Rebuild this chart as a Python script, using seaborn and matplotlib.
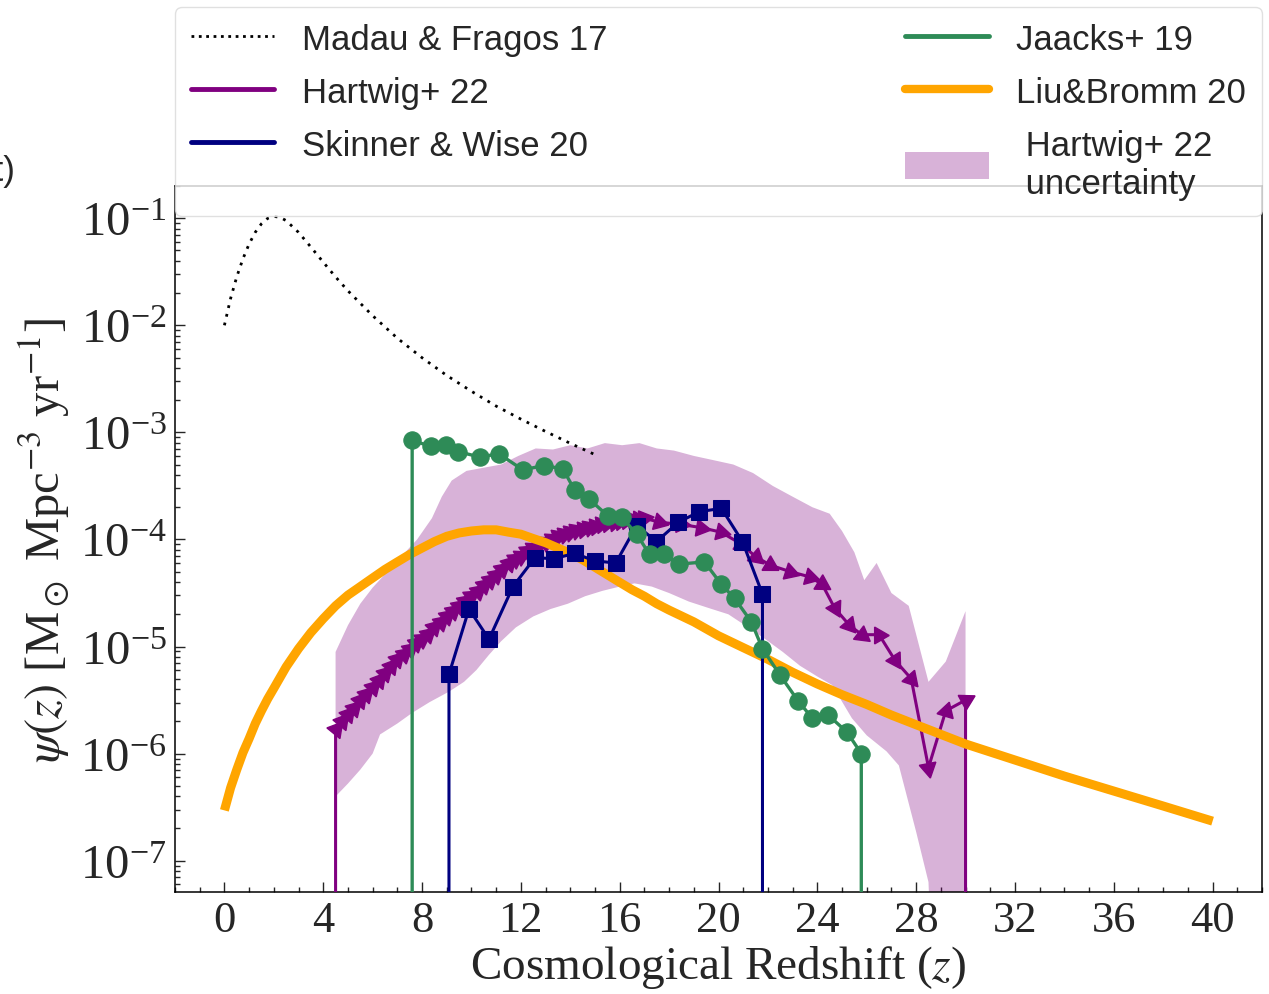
import numpy as np
import matplotlib
matplotlib.use("Agg")
import matplotlib.pyplot as plt
from matplotlib.lines import Line2D
from matplotlib.patches import Patch
from matplotlib.ticker import MultipleLocator, FixedLocator
import seaborn as sns

# ---------------- data ----------------
# Madau & Fragos 2017 cosmic star formation rate density
madau_z = [0, 0.25, 0.5, 0.75, 1, 1.25, 1.5, 1.75, 2, 2.25, 2.5, 3, 3.5, 4, 4.5,
           5, 6, 7, 8, 9, 10, 11, 12, 13, 14, 15]
madau_psi = [1.00e-2, 1.78e-2, 2.84e-2, 4.18e-2, 5.75e-2, 7.40e-2, 8.88e-2, 9.97e-2,
             1.04e-1, 1.02e-1, 9.50e-2, 7.38e-2, 5.38e-2, 3.89e-2, 2.83e-2,
             2.10e-2, 1.23e-2, 7.58e-3, 4.98e-3, 3.40e-3, 2.42e-3, 1.76e-3,
             1.33e-3, 1.02e-3, 7.90e-4, 6.20e-4]

# Hartwig+ 22 Pop III SFRD
hart_z = [4.50, 4.75, 5.00, 5.25, 5.50, 5.75, 6.00, 6.25, 6.50, 6.75, 7.00, 7.25,
          7.50, 7.75, 8.00, 8.25, 8.50, 8.75, 9.00, 9.25, 9.50, 9.75, 10.00, 10.25,
          10.50, 10.75, 11.00, 11.25, 11.50, 11.75, 12.00, 12.25, 12.50, 12.75,
          13.00, 13.25, 13.50, 13.75, 14.00, 14.25, 14.50, 14.75, 15.00, 15.25,
          15.50, 15.75, 16.00, 16.25, 16.50, 16.75, 17.00,
          17.6, 18.5, 19.3, 20.1, 20.9, 21.5, 22.1, 22.9, 23.7, 24.2, 24.7, 25.3,
          25.8, 26.5, 27.15, 27.8, 28.5, 29.2, 30.0]
hart_psi = [1.70e-6, 2.00e-6, 2.34e-6, 2.69e-6, 3.16e-6, 3.63e-6, 4.17e-6, 4.90e-6,
            5.62e-6, 6.61e-6, 7.59e-6, 8.51e-6, 9.55e-6, 1.07e-5, 1.17e-5, 1.32e-5,
            1.51e-5, 1.70e-5, 1.91e-5, 2.14e-5, 2.40e-5, 2.69e-5, 2.95e-5, 3.31e-5,
            3.72e-5, 4.17e-5, 4.68e-5, 5.25e-5, 6.03e-5, 6.61e-5, 7.08e-5, 7.76e-5,
            8.32e-5, 8.91e-5, 9.55e-5, 1.02e-4, 1.07e-4, 1.12e-4, 1.17e-4, 1.23e-4,
            1.26e-4, 1.32e-4, 1.35e-4, 1.38e-4, 1.41e-4, 1.45e-4, 1.48e-4, 1.51e-4,
            1.55e-4, 1.55e-4, 1.58e-4,
            1.45e-4, 1.38e-4, 1.29e-4, 1.17e-4, 9.12e-5, 6.92e-5, 5.75e-5, 5.01e-5,
            4.47e-5, 3.80e-5, 2.29e-5, 1.58e-5, 1.29e-5, 1.29e-5, 7.41e-6, 5.01e-6,
            7.41e-7, 2.51e-6, 3.16e-6]

# Hartwig+ 22 uncertainty band (upper and lower envelopes)
band_up_z = [4.5, 5.0, 5.5, 6.0, 6.6, 7.2, 7.8, 8.4, 8.8, 9.2, 9.8, 10.5, 11.2, 11.9,
             12.6, 13.3, 14.0, 14.7, 15.4, 16.1, 16.8, 17.5, 18.2, 19.0, 19.8, 20.6,
             21.4, 22.2, 23.0, 23.8, 24.5, 25.0, 25.5, 25.9, 26.4, 27.0, 27.7, 28.5,
             29.2, 30.0]
band_up = [8.91e-6, 1.58e-5, 2.51e-5, 3.55e-5, 5.01e-5, 7.08e-5, 1.00e-4, 1.58e-4,
           2.51e-4, 3.55e-4, 4.37e-4, 4.68e-4, 5.01e-4, 6.03e-4, 7.08e-4, 6.92e-4,
           7.59e-4, 7.08e-4, 7.94e-4, 7.59e-4, 7.94e-4, 7.08e-4, 6.76e-4, 6.03e-4,
           5.50e-4, 5.01e-4, 4.17e-4, 3.16e-4, 2.51e-4, 2.00e-4, 1.74e-4, 1.20e-4,
           7.59e-5, 4.17e-5, 6.03e-5, 3.16e-5, 2.40e-5, 4.68e-6, 7.24e-6, 2.14e-5]
band_lo_z = [4.5, 5.0, 5.5, 6.0, 6.3, 7.0, 7.6, 8.3, 9.1, 9.7, 10.2, 10.7, 11.2, 11.8,
             12.5, 13.2, 13.9, 14.6, 15.3, 16.0, 16.6, 17.3, 18.0, 18.8, 19.6, 20.4,
             21.2, 21.9, 22.6, 23.3, 24.0, 24.6, 25.4, 26.0, 26.8, 27.3, 28.0, 28.5,
             28.8, 30.0]
band_lo = [3.98e-7, 5.25e-7, 7.08e-7, 1.00e-6, 1.51e-6, 1.91e-6, 2.40e-6, 3.02e-6,
           3.80e-6, 4.68e-6, 6.03e-6, 8.32e-6, 1.12e-5, 1.51e-5, 1.91e-5, 2.24e-5,
           2.51e-5, 2.95e-5, 3.31e-5, 3.63e-5, 3.89e-5, 3.63e-5, 3.16e-5, 2.63e-5,
           2.29e-5, 2.00e-5, 1.51e-5, 1.17e-5, 8.91e-6, 6.61e-6, 5.25e-6, 4.37e-6,
           2.14e-6, 1.48e-6, 1.05e-6, 7.76e-7, 1.86e-7, 6.31e-8, 1.0e-9, 1.0e-9]

# Skinner & Wise 20
skin_z = [9.09, 9.90, 10.71, 11.68, 12.57, 13.33, 14.18, 14.99, 15.84, 16.69,
          17.49, 18.38, 19.23, 20.12, 20.97, 21.78]
skin_psi = [5.50e-6, 2.24e-5, 1.17e-5, 3.63e-5, 6.76e-5, 6.61e-5, 7.41e-5, 6.31e-5,
            6.03e-5, 1.35e-4, 9.55e-5, 1.45e-4, 1.82e-4, 1.95e-4, 9.55e-5, 3.09e-5]

# Jaacks+ 19
jaa_z = [7.60, 8.36, 8.97, 9.45, 10.34, 11.11, 12.08, 12.93, 13.70, 14.18, 14.75,
         15.52, 16.08, 16.69, 17.21, 17.78, 18.42, 19.43, 20.12, 20.65, 21.33,
         21.78, 22.50, 23.23, 23.80, 24.44, 25.21, 25.78]
jaa_psi = [8.41e-4, 7.41e-4, 7.59e-4, 6.61e-4, 5.89e-4, 6.31e-4, 4.47e-4, 4.90e-4,
           4.57e-4, 2.88e-4, 2.40e-4, 1.66e-4, 1.62e-4, 1.12e-4, 7.24e-5, 7.24e-5,
           5.89e-5, 6.17e-5, 3.80e-5, 2.82e-5, 1.70e-5, 9.55e-6, 5.37e-6, 3.09e-6,
           2.14e-6, 2.29e-6, 1.58e-6, 1.00e-6]

# Liu & Bromm 20
liu_z = [0, 0.25, 0.5, 0.75, 1, 1.25, 1.5, 1.75, 2, 2.5, 3, 3.5, 4, 4.5, 5, 5.5, 6,
         6.5, 7, 7.5, 8, 8.5, 9, 9.5, 10, 10.5, 11, 11.5, 12, 12.5, 13, 13.5, 14,
         14.5, 15, 15.5, 16, 16.5, 17, 17.5, 18, 19, 20, 21, 22, 23, 24, 25, 26, 27,
         28, 30, 32, 34, 36, 38, 40]
liu_psi = [2.95e-7, 4.79e-7, 7.08e-7, 1.02e-6, 1.38e-6, 1.91e-6, 2.51e-6, 3.24e-6,
           4.07e-6, 6.46e-6, 9.55e-6, 1.35e-5, 1.82e-5, 2.40e-5, 3.02e-5, 3.63e-5,
           4.37e-5, 5.25e-5, 6.17e-5, 7.24e-5, 8.32e-5, 9.55e-5, 1.07e-4, 1.15e-4,
           1.20e-4, 1.23e-4, 1.23e-4, 1.17e-4, 1.12e-4, 1.02e-4, 9.33e-5, 8.32e-5,
           7.41e-5, 6.46e-5, 5.50e-5, 4.68e-5, 3.98e-5, 3.39e-5, 2.95e-5, 2.51e-5,
           2.19e-5, 1.70e-5, 1.26e-5, 9.77e-6, 7.59e-6, 5.75e-6, 4.47e-6, 3.55e-6,
           2.88e-6, 2.29e-6, 1.86e-6, 1.23e-6, 8.71e-7, 6.17e-7, 4.47e-7, 3.24e-7,
           2.34e-7]

# value used where a model drops to zero at the edges of its redshift range
ZERO = 1e-12

x_ticks = list(range(0, 41, 4))

labels = ["Madau & Fragos 17", "Hartwig+ 22", "Skinner & Wise 20",
          "Jaacks+ 19", "Liu&Bromm 20", " Hartwig+ 22\n uncertainty"]


def with_drops(z, psi):
    """Close a series with vertical drops to zero at both ends."""
    return [z[0]] + list(z) + [z[-1]], [ZERO] + list(psi) + [ZERO]


# ---------------- style ----------------
sns.set_style("ticks")
plt.rcParams.update({
    "font.family": "serif",
    "font.serif": ["Liberation Serif", "DejaVu Serif"],
    "mathtext.fontset": "stix",
    "axes.linewidth": 1.1,
    "axes.edgecolor": "black",
})

PURPLE = "purple"
NAVY = "navy"
GREEN = "seagreen"
ORANGE = "orange"

fig = plt.figure(figsize=(12.69, 9.95), dpi=100)
ax = fig.add_axes([175 / 1269, 102 / 995, 1087 / 1269, 706 / 995])
ax.set_yscale("log")
ax.set_xlim(-2, 42)
ax.set_ylim(5.1e-8, 0.2)

# uncertainty band
ax.fill(list(band_up_z) + list(band_lo_z)[::-1], list(band_up) + list(band_lo)[::-1],
        color=PURPLE, alpha=0.3, lw=0, zorder=1)

# Madau & Fragos
sns.lineplot(x=madau_z, y=madau_psi, ax=ax, color="black", lw=2, ls=(0, (1, 2.2)),
             estimator=None, sort=False, legend=False, zorder=2)

# Hartwig+ 22 line with direction-following triangle markers
hz, hp = with_drops(hart_z, hart_psi)
sns.lineplot(x=hz, y=hp, ax=ax, color=PURPLE, lw=2.2,
             estimator=None, sort=False, legend=False, zorder=3)
pts = ax.transData.transform(np.column_stack([hart_z, hart_psi]))
d = np.diff(pts, axis=0)
ang = np.degrees(np.arctan2(d[:, 1], d[:, 0]))
ang = np.concatenate([[ang[0]], ang])
for zz, vv, a in zip(hart_z, hart_psi, ang):
    ax.plot([zz], [vv], ls="none", marker=(3, 0, a - 90), ms=14,
            color=PURPLE, mec=PURPLE, zorder=3)

# Liu & Bromm
sns.lineplot(x=liu_z, y=liu_psi, ax=ax, color=ORANGE, lw=6.5,
             estimator=None, sort=False, legend=False, zorder=4,
             solid_capstyle="butt", solid_joinstyle="round")

# Skinner & Wise
sz, sp = with_drops(skin_z, skin_psi)
sns.lineplot(x=sz, y=sp, ax=ax, color=NAVY, lw=2.2, marker="s", ms=12,
             mec=NAVY, estimator=None, sort=False, legend=False, zorder=5)

# Jaacks
jz, jp = with_drops(jaa_z, jaa_psi)
sns.lineplot(x=jz, y=jp, ax=ax, color=GREEN, lw=2.4, marker="o", ms=12.5,
             mec=GREEN, estimator=None, sort=False, legend=False, zorder=6)

# ---------------- axes ----------------
ax.xaxis.set_major_locator(FixedLocator(x_ticks))
ax.xaxis.set_minor_locator(MultipleLocator(1))
ax.tick_params(which="both", direction="in", top=False, right=False, width=1.0)
ax.tick_params(axis="x", labelsize=32)
ax.tick_params(axis="y", labelsize=35)
ax.tick_params(which="major", length=7, pad=6)
ax.tick_params(which="minor", length=3.5)
for s in ax.spines.values():
    s.set_visible(True)
    s.set_color("black")

ax.set_xlabel(r"Cosmological Redshift ($z$)", fontsize=34, labelpad=2)
ax.set_ylabel(r"$\psi(z)$ [M$_\odot$ Mpc$^{-3}$ yr$^{-1}$]", fontsize=35, labelpad=6)

# ---------------- legend ----------------
handles = [
    Line2D([], [], color="black", ls=":", lw=2),
    Line2D([], [], color=PURPLE, lw=3.5),
    Line2D([], [], color=NAVY, lw=3.5),
    Line2D([], [], color=GREEN, lw=3.5),
    Line2D([], [], color=ORANGE, lw=6),
    Patch(facecolor=PURPLE, alpha=0.3, edgecolor="none"),
]
leg = ax.legend(handles, labels, ncol=2, mode="expand", loc="upper left",
                bbox_to_anchor=(0, 0.96, 1, 0.2935), borderaxespad=0,
                prop={"family": "Liberation Sans", "size": 25},
                handlelength=2.4, handletextpad=0.8, labelspacing=0.58,
                borderpad=0.45, handleheight=0.8,
                framealpha=0.8, fancybox=True, edgecolor="0.85")
leg.set_zorder(10)

fig.text(16 / 1269, 1 - 172 / 995, "(t)", ha="right", va="center",
         fontsize=25, family="Liberation Sans")

fig.savefig("out.png", dpi=100)
